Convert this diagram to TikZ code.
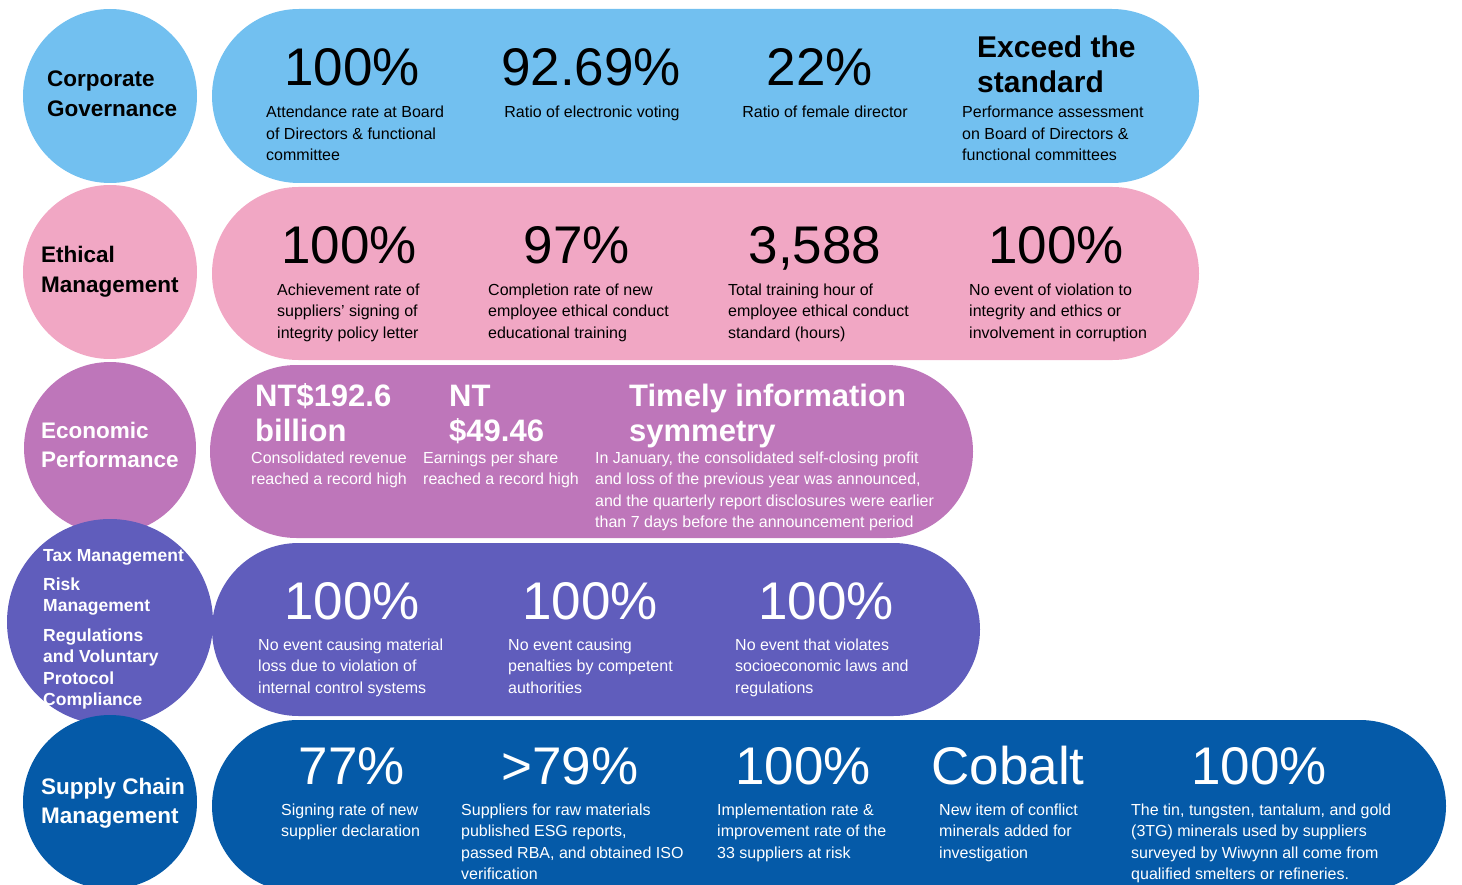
\documentclass[tikz,border=0pt]{standalone}
\usepackage{fontspec}
\setmainfont{Liberation Sans}
\usetikzlibrary{shapes.misc}

\definecolor{govblue}{RGB}{114,192,240}
\definecolor{ethpink}{RGB}{241,167,196}
\definecolor{ecopurple}{RGB}{190,118,186}
\definecolor{taxindigo}{RGB}{96,93,188}
\definecolor{supblue}{RGB}{5,90,168}

\begin{document}
\begin{tikzpicture}[x=1pt,y=-1pt,
  topic/.style={circle,fill=#1,inner sep=0},
  pill/.style={rounded rectangle,fill=#1,inner sep=0},
  bignum/.style={anchor=base,inner sep=0,font=\fontsize{53}{60}\selectfont},
  desc/.style={anchor=base west,inner sep=0,align=left,font=\fontsize{16}{21.5}\selectfont},
  head/.style={anchor=base west,inner sep=0,align=left,font=\fontsize{31}{35}\selectfont\bfseries},
  label/.style={anchor=base west,inner sep=0,align=left,font=\fontsize{22.5}{29.5}\selectfont\bfseries},
  sublabel/.style={anchor=base west,inner sep=0,align=left,text=white,font=\fontsize{17.5}{21.5}\selectfont\bfseries}]
  \useasboundingbox (0,0) rectangle (1462,885);
  % y of a multi-line node = baseline of its last line

  % round topics
  \node[topic=govblue,minimum size=174pt] (c1) at (110,96) {};
  \node[topic=ethpink,minimum size=174pt] (c2) at (110,272) {};
  \node[topic=ecopurple,minimum size=172pt] (c3) at (110,448) {};
  \node[topic=taxindigo,minimum size=206pt] (c4) at (110,622) {};
  \node[topic=supblue,minimum size=174pt] (c5) at (110,802) {};

  % pills
  \node[pill=govblue,minimum width=987pt,minimum height=174pt] (p1) at (705.5,96) {};
  \node[pill=ethpink,minimum width=987pt,minimum height=173pt] (p2) at (705.5,273.5) {};
  \node[pill=ecopurple,minimum width=763pt,minimum height=173pt] (p3) at (591.5,451.5) {};
  \node[pill=taxindigo,minimum width=768pt,minimum height=173pt] (p4) at (596,629.5) {};
  \node[pill=supblue,minimum width=1234pt,minimum height=172pt] (p5) at (829,806) {};

  % topic labels
  \node[label] (l1) at (47,116.5) {Corporate\\Governance};
  \node[label] (l2) at (41,292.5) {Ethical\\Management};
  \node[label,text=white] (l3) at (41,467.5) {Economic\\Performance};
  \node[label,text=white] (l5) at (41,823.5) {Supply Chain\\Management};
  \node[sublabel] (l4a) at (43,561) {Tax Management};
  \node[sublabel] (l4b) at (43,611.5) {Risk\\Management};
  \node[sublabel] (l4c) at (43,705.5) {Regulations\\and Voluntary\\Protocol\\Compliance};

  % corporate governance
  \node[bignum] (n11) at (352,86) {100\%};
  \node[desc] (d11) at (266,161) {Attendance rate at Board\\of Directors \& functional\\committee};
  \node[bignum] (n12) at (591,86) {92.69\%};
  \node[desc,anchor=base] (d12) at (592,118) {Ratio of electronic voting};
  \node[bignum] (n13) at (820,86) {22\%};
  \node[desc,anchor=base] (d13) at (825,118) {Ratio of female director};
  \node[head,font=\fontsize{30}{35}\selectfont\bfseries] (n14) at (977,93) {Exceed the\\standard};
  \node[desc] (d14) at (962,161) {Performance assessment\\on Board of Directors \&\\functional committees};

  % ethical management
  \node[bignum] (n21) at (349,264) {100\%};
  \node[desc] (d21) at (277,338) {Achievement rate of\\suppliers' signing of\\integrity policy letter};
  \node[bignum] (n22) at (577,264) {97\%};
  \node[desc] (d22) at (488,338) {Completion rate of new\\employee ethical conduct\\educational training};
  \node[bignum] (n23) at (815,264) {3,588};
  \node[desc] (d23) at (728,338) {Total training hour of\\employee ethical conduct\\standard (hours)};
  \node[bignum] (n24) at (1056,264) {100\%};
  \node[desc] (d24) at (969,338) {No event of violation to\\integrity and ethics or\\involvement in corruption};

  % economic performance
  \begin{scope}[text=white]
  \node[head] (n31) at (255,441) {NT\$192.6\\billion};
  \node[desc] (d31) at (251,484.5) {Consolidated revenue\\reached a record high};
  \node[head] (n32) at (449,441) {NT\\\$49.46};
  \node[desc] (d32) at (423,484.5) {Earnings per share\\reached a record high};
  \node[head] (n33) at (629,441) {Timely information\\symmetry};
  \node[desc] (d33) at (595,527.5) {In January, the consolidated self-closing profit\\and loss of the previous year was announced,\\and the quarterly report disclosures were earlier\\than 7 days before the announcement period};
  \end{scope}

  % tax, risk and compliance
  \begin{scope}[text=white]
  \node[bignum] (n41) at (352,619) {100\%};
  \node[desc] (d41) at (258,693) {No event causing material\\loss due to violation of\\internal control systems};
  \node[bignum] (n42) at (590,619) {100\%};
  \node[desc] (d42) at (508,693) {No event causing\\penalties by competent\\authorities};
  \node[bignum] (n43) at (826,619) {100\%};
  \node[desc] (d43) at (735,693) {No event that violates\\socioeconomic laws and\\regulations};
  \end{scope}

  % supply chain
  \begin{scope}[text=white]
  \node[bignum] (n51) at (352,784) {77\%};
  \node[desc] (d51) at (281,836.5) {Signing rate of new\\supplier declaration};
  \node[bignum] (n52) at (570,784) {>79\%};
  \node[desc] (d52) at (461,879.5) {Suppliers for raw materials\\published ESG reports,\\passed RBA, and obtained ISO\\verification};
  \node[bignum] (n53) at (803,784) {100\%};
  \node[desc] (d53) at (717,858) {Implementation rate \&\\improvement rate of the\\33 suppliers at risk};
  \node[bignum] (n54) at (1008,784) {Cobalt};
  \node[desc] (d54) at (939,858) {New item of conflict\\minerals added for\\investigation};
  \node[bignum] (n55) at (1259,784) {100\%};
  \node[desc] (d55) at (1131,879.5) {The tin, tungsten, tantalum, and gold\\(3TG) minerals used by suppliers\\surveyed by Wiwynn all come from\\qualified smelters or refineries.};
  \end{scope}
\end{tikzpicture}
\end{document}
